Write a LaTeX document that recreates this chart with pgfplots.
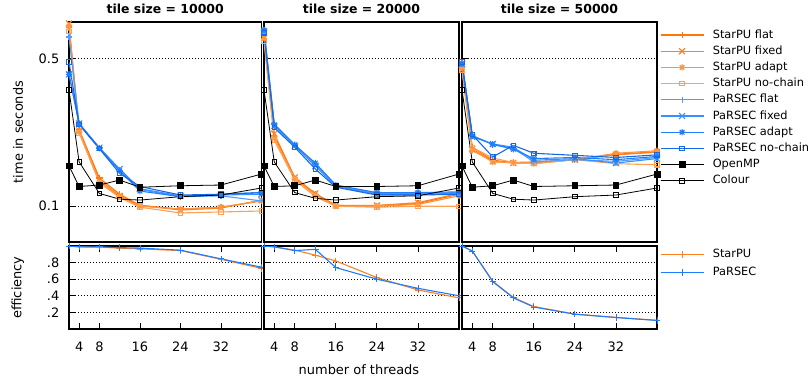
\documentclass[border=0pt]{standalone}
\usepackage{fontspec}
\setmainfont{DejaVu Sans}
\usepackage{pgfplots}
\usepackage{pgfplotstable}
\pgfplotsset{compat=1.18}

\pgfdeclareplotmark{plusx}{%
 \pgfpathmoveto{\pgfpoint{-\pgfplotmarksize}{0pt}}\pgfpathlineto{\pgfpoint{\pgfplotmarksize}{0pt}}%
 \pgfpathmoveto{\pgfpoint{0pt}{-\pgfplotmarksize}}\pgfpathlineto{\pgfpoint{0pt}{\pgfplotmarksize}}%
 \pgfpathmoveto{\pgfpoint{-0.72\pgfplotmarksize}{-0.72\pgfplotmarksize}}\pgfpathlineto{\pgfpoint{0.72\pgfplotmarksize}{0.72\pgfplotmarksize}}%
 \pgfpathmoveto{\pgfpoint{-0.72\pgfplotmarksize}{0.72\pgfplotmarksize}}\pgfpathlineto{\pgfpoint{0.72\pgfplotmarksize}{-0.72\pgfplotmarksize}}%
 \pgfusepathqstroke}

\definecolor{sflat}{RGB}{255,118,8}
\definecolor{sfix}{RGB}{255,128,30}
\definecolor{sadapt}{RGB}{255,148,60}
\definecolor{snoch}{RGB}{255,160,82}
\definecolor{pflat}{RGB}{78,158,255}
\definecolor{pfix}{RGB}{55,144,255}
\definecolor{padapt}{RGB}{32,126,246}
\definecolor{pnoch}{RGB}{20,106,230}
\definecolor{estar}{RGB}{255,128,30}
\definecolor{epar}{RGB}{30,122,255}

% time data: threads, StarPU flat/fixed/adapt/no-chain, PaRSEC flat/fixed/adapt/no-chain, OpenMP, Colour
\pgfplotstableread{
x sf sx sa sn pf px pa pn omp col
2  0.70  0.73  0.71  0.67  0.63  0.42  0.42  0.48  0.155 0.354
4  0.230 0.228 0.225 0.222 0.246 0.246 0.245 0.243 0.124 0.162
8  0.136 0.133 0.130 0.129 0.189 0.189 0.188 0.187 0.126 0.115
12 0.114 0.112 0.111 0.110 0.148 0.150 0.147 0.143 0.133 0.108
16 0.101 0.101 0.100 0.099 0.120 0.121 0.118 0.124 0.123 0.107
24 0.097 0.096 0.097 0.093 0.111 0.112 0.111 0.113 0.125 0.111
32 0.099 0.098 0.099 0.094 0.112 0.113 0.114 0.114 0.126 0.113
40 0.106 0.107 0.106 0.095 0.106 0.114 0.116 0.116 0.142 0.122
}\tA
\pgfplotstableread{
x sf sx sa sn pf px pa pn omp col
2  0.64  0.66  0.62  0.60  0.68  0.67  0.68  0.66  0.155 0.354
4  0.215 0.220 0.210 0.205 0.245 0.240 0.243 0.235 0.124 0.162
8  0.136 0.137 0.135 0.133 0.195 0.193 0.195 0.190 0.125 0.116
12 0.114 0.115 0.113 0.111 0.158 0.155 0.160 0.150 0.133 0.109
16 0.101 0.101 0.100 0.100 0.125 0.124 0.126 0.123 0.124 0.107
24 0.100 0.101 0.100 0.099 0.115 0.114 0.116 0.113 0.124 0.111
32 0.103 0.104 0.102 0.100 0.115 0.114 0.116 0.113 0.125 0.112
40 0.114 0.115 0.112 0.100 0.116 0.115 0.117 0.114 0.142 0.122
}\tB
\pgfplotstableread{
x sf sx sa sn pf px pa pn omp col
2  0.45  0.44  0.45  0.44  0.48  0.47  0.47  0.48  0.155 0.354
4  0.190 0.186 0.184 0.190 0.216 0.213 0.215 0.218 0.123 0.162
8  0.165 0.163 0.162 0.169 0.196 0.197 0.196 0.171 0.125 0.115
12 0.161 0.160 0.161 0.161 0.188 0.190 0.186 0.194 0.133 0.108
16 0.162 0.160 0.159 0.159 0.162 0.165 0.168 0.178 0.124 0.107
24 0.166 0.166 0.166 0.166 0.166 0.168 0.170 0.174 0.125 0.111
32 0.176 0.175 0.178 0.159 0.163 0.160 0.166 0.170 0.126 0.113
40 0.181 0.180 0.183 0.157 0.170 0.168 0.172 0.175 0.142 0.122
}\tC
% efficiency: StarPU, PaRSEC
\pgfplotstableread{
x s p
2  1.0   1.0
4  0.99  0.99
8  0.985 0.99
12 0.975 0.98
16 0.965 0.975
24 0.945 0.95
32 0.84  0.845
40 0.73  0.745
}\eA
\pgfplotstableread{
x s p
2  1.0   1.0
4  0.99  0.99
8  0.95  0.945
12 0.89  0.96
16 0.82  0.74
24 0.62  0.60
32 0.47  0.49
40 0.375 0.40
}\eB
\pgfplotstableread{
x s p
2  1.0   1.0
4  0.94  0.94
8  0.575 0.57
12 0.38  0.375
16 0.27  0.265
24 0.18  0.178
32 0.14  0.138
40 0.105 0.103
}\eC

\pgfplotsset{
  mycommon/.style={
    scale only axis, xmin=2, xmax=40,
    axis line style={line width=1.3bp, black},
    tick style={black, line width=0.8bp},
    major tick length=6bp,
    grid style={black, line width=0.7bp, dash pattern=on 0.8bp off 2.2bp},
    ymajorgrids,
    ytick pos=left,
    yticklabel style={anchor=east, inner sep=0pt, xshift=-9.5bp},
    xticklabel style={anchor=north, inner sep=0pt, yshift=-12.7bp},
    legend image code/.code={\draw[mark repeat=2,mark phase=2,##1] plot coordinates {(0bp,0bp) (21.5bp,0bp) (43bp,0bp)};},
  },
  mytop/.style={mycommon, ymin=0.0678, ymax=0.742, height=220bp,
    ytick={0.1,0.5}, yminorticks=false, xtick=\empty,
    title style={at={(axis description cs:0.5,1.0114)}, anchor=base, inner sep=0pt, font=\bfseries\fontsize{12.5}{14}\selectfont},
  },
  mybot/.style={mycommon, ymin=0, ymax=1, height=83bp,
    ytick={0.2,0.4,0.6,0.8}, xtick={4,8,16,24,32}, xticklabels={4,8,16,24,32}, xtick pos=both,
  },
  mylg/.style={legend style={draw=none, fill=none, inner sep=0pt, outer sep=0pt,
      font=\fontsize{11.4}{13}\selectfont, column sep=8.7bp, row sep=#1,
      nodes={inner sep=0pt, text height=8bp, text depth=2bp, anchor=west}},
      legend cell align=left},
  sfl/.style={color=sflat, line width=1.1bp, mark=+, mark size=3.2bp, mark options={solid}},
  sfx/.style={color=sfix, line width=1.1bp, mark=x, mark size=4.2bp, mark options={solid}},
  sad/.style={color=sadapt, line width=1.1bp, mark=plusx, mark size=3.2bp, mark options={solid}},
  snc/.style={color=snoch, line width=1.1bp, mark=square, mark size=2.2bp, mark options={solid}},
  pfl/.style={color=pflat, line width=1.1bp, mark=+, mark size=3.2bp, mark options={solid}},
  pfx/.style={color=pfix, line width=1.1bp, mark=x, mark size=4.2bp, mark options={solid}},
  pad/.style={color=padapt, line width=1.1bp, mark=plusx, mark size=3.2bp, mark options={solid}},
  pnc/.style={color=pnoch, line width=1.1bp, mark=square, mark size=2.2bp, mark options={solid}},
  ompst/.style={color=black, line width=0.8bp, mark=square*, mark size=2.9bp, mark options={solid}},
  colst/.style={color=black, line width=0.8bp, mark=square, mark size=2.2bp, mark options={solid, line width=0.8bp}},
  esst/.style={color=estar, line width=1.1bp, mark=+, mark size=3.2bp, mark options={solid, line width=0.8bp}},
  epst/.style={color=epar, line width=1.1bp, mark=+, mark size=3.2bp, mark options={solid, line width=0.8bp}},
}

\begin{document}
\begin{tikzpicture}[font=\fontsize{13}{15}\selectfont]
\path[use as bounding box] (0,0) rectangle (809bp,-379bp);

% ---- top row ----
\begin{axis}[mytop, ymode=log, anchor=north west, at={(69bp,-22bp)}, width=192.5bp, yticklabels={0.1,0.5},
  title={tile size = 10000},
  ylabel={time in seconds},
  ylabel style={at={(axis description cs:-0.239,0.5)}, anchor=base, inner sep=0pt}]
  \addplot[sfl] table[x=x,y=sf]{\tA};
  \addplot[sfx] table[x=x,y=sx]{\tA};
  \addplot[sad] table[x=x,y=sa]{\tA};
  \addplot[snc] table[x=x,y=sn]{\tA};
  \addplot[pfl] table[x=x,y=pf]{\tA};
  \addplot[pfx] table[x=x,y=px]{\tA};
  \addplot[pad] table[x=x,y=pa]{\tA};
  \addplot[pnc] table[x=x,y=pn]{\tA};
  \addplot[ompst] table[x=x,y=omp]{\tA};
  \addplot[colst] table[x=x,y=col]{\tA};
\end{axis}

\begin{axis}[mytop, ymode=log, anchor=north west, at={(264bp,-22bp)}, width=195bp, yticklabels={},
  title={tile size = 20000}]
  \addplot[sfl] table[x=x,y=sf]{\tB};
  \addplot[sfx] table[x=x,y=sx]{\tB};
  \addplot[sad] table[x=x,y=sa]{\tB};
  \addplot[snc] table[x=x,y=sn]{\tB};
  \addplot[pfl] table[x=x,y=pf]{\tB};
  \addplot[pfx] table[x=x,y=px]{\tB};
  \addplot[pad] table[x=x,y=pa]{\tB};
  \addplot[pnc] table[x=x,y=pn]{\tB};
  \addplot[ompst] table[x=x,y=omp]{\tB};
  \addplot[colst] table[x=x,y=col]{\tB};
\end{axis}

\begin{axis}[mytop, ymode=log, anchor=north west, at={(462bp,-22bp)}, width=195bp, yticklabels={},
  title={tile size = 50000},
  mylg=6.2bp,
  legend style={at={(axis description cs:1.0154,0.9636)}, anchor=north west}]
  \addplot[sfl] table[x=x,y=sf]{\tC}; \addlegendentry{StarPU flat}
  \addplot[sfx] table[x=x,y=sx]{\tC}; \addlegendentry{StarPU fixed}
  \addplot[sad] table[x=x,y=sa]{\tC}; \addlegendentry{StarPU adapt}
  \addplot[snc] table[x=x,y=sn]{\tC}; \addlegendentry{StarPU no-chain}
  \addplot[pfl] table[x=x,y=pf]{\tC}; \addlegendentry{PaRSEC flat}
  \addplot[pfx] table[x=x,y=px]{\tC}; \addlegendentry{PaRSEC fixed}
  \addplot[pad] table[x=x,y=pa]{\tC}; \addlegendentry{PaRSEC adapt}
  \addplot[pnc] table[x=x,y=pn]{\tC}; \addlegendentry{PaRSEC no-chain}
  \addplot[ompst] table[x=x,y=omp]{\tC}; \addlegendentry{OpenMP}
  \addplot[colst] table[x=x,y=col]{\tC}; \addlegendentry{Colour}
\end{axis}

% ---- bottom row ----
\begin{axis}[mybot, anchor=north west, at={(69bp,-246bp)}, width=192.5bp, yticklabels={.2,.4,.6,.8},
  ylabel={efficiency},
  ylabel style={at={(axis description cs:-0.247,0.5)}, anchor=base, inner sep=0pt}]
  \addplot[esst] table[x=x,y=s]{\eA};
  \addplot[epst] table[x=x,y=p]{\eA};
\end{axis}

\begin{axis}[mybot, anchor=north west, at={(264bp,-246bp)}, width=195bp, yticklabels={},
  xlabel={number of threads},
  xlabel style={at={(axis description cs:0.487,-0.554)}, anchor=base, inner sep=0pt}]
  \addplot[esst] table[x=x,y=s]{\eB};
  \addplot[epst] table[x=x,y=p]{\eB};
\end{axis}

\begin{axis}[mybot, anchor=north west, at={(462bp,-246bp)}, width=195bp, yticklabels={},
  mylg=8bp,
  legend style={at={(axis description cs:1.0154,0.958)}, anchor=north west}]
  \addplot[esst] table[x=x,y=s]{\eC}; \addlegendentry{StarPU}
  \addplot[epst] table[x=x,y=p]{\eC}; \addlegendentry{PaRSEC}
\end{axis}
\end{tikzpicture}
\end{document}
